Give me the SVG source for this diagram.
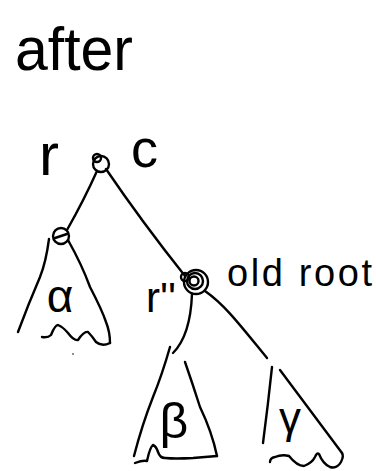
<svg xmlns="http://www.w3.org/2000/svg" width="376" height="471" viewBox="0 0 376 471">
<style>
.ink{fill:none;stroke:#000;stroke-width:2.4;stroke-linecap:round;stroke-linejoin:round}
.lbl{font-family:"Liberation Sans","DejaVu Sans",sans-serif;fill:#000}
</style>
<rect width="376" height="471" fill="#fff"/>
<text class="lbl" x="15" y="70" font-size="62" textLength="118" lengthAdjust="spacingAndGlyphs">after</text>
<g id="connectors" class="ink">
<path d="M97,171 Q84,200 67,230"/>
<path d="M106,169 Q142,222 185,276"/>
<path d="M192,294 C191,320 186,340 173,353"/>
<path d="M205,291 C225,305 240,325 267,358"/>
</g>
<g id="node-root">
<circle class="ink" cx="101" cy="164" r="8"/>
<circle class="ink" cx="97" cy="158" r="4"/>
<text class="lbl" x="39" y="175" font-size="60">r</text>
<text class="lbl" x="131" y="167" font-size="54">c</text>
</g>
<g id="node-left">
<circle class="ink" cx="61" cy="236" r="8"/>
<path class="ink" d="M55,238 L67,234"/>
</g>
<g id="node-old-root">
<circle class="ink" cx="196" cy="282" r="12"/>
<circle class="ink" cx="195" cy="281" r="8"/>
<circle class="ink" cx="194" cy="281" r="4.5"/>
<circle class="ink" cx="185" cy="277" r="4"/>
<text class="lbl" x="146" y="312" font-size="42">r''</text>
<text class="lbl" x="227" y="286" font-size="38" textLength="145" lengthAdjust="spacing">old root</text>
</g>
<g id="tree-alpha">
<path class="ink" d="M49,239 Q46,262 40,277 Q28,305 18,332"/>
<path class="ink" d="M68,240 Q82,265 90,287 Q102,310 106,322 Q110,332 110,343"/>
<path class="ink" d="M42,337 Q48,338 51,335 Q55,325 58,325 Q63,327 68,333 Q74,341 78,340 Q84,331 88,332 Q92,336 96,342 Q102,347 110,343"/>
<text class="lbl" x="60" y="312" font-size="46" text-anchor="middle">α</text>
<circle cx="73" cy="354" r="0.8" fill="#000"/>
</g>
<g id="tree-beta">
<path class="ink" d="M170,347 Q162,375 153,397 Q142,425 134,456"/>
<path class="ink" d="M185,362 Q193,385 200,407 Q212,432 217,456"/>
<path class="ink" d="M135,463 Q143,460 147,461 Q150,447 153,445 Q156,446 158,452 Q160,458 165,458 Q175,459 193,458 Q205,457 217,456"/>
<text class="lbl" x="174" y="438" font-size="50" text-anchor="middle">β</text>
</g>
<g id="tree-gamma">
<path class="ink" d="M272,367 Q268,405 263,443"/>
<path class="ink" d="M280,370 Q310,410 342,453"/>
<path class="ink" d="M270,462 Q270,458 275,457 Q282,454 289,456 Q297,466 304,466 Q312,463 315,457 Q317,452 319,454 Q323,464 330,467 Q337,469 341,462 Q344,456 342,453"/>
<text class="lbl" x="290" y="433" font-size="44" text-anchor="middle">γ</text>
</g>
</svg>
